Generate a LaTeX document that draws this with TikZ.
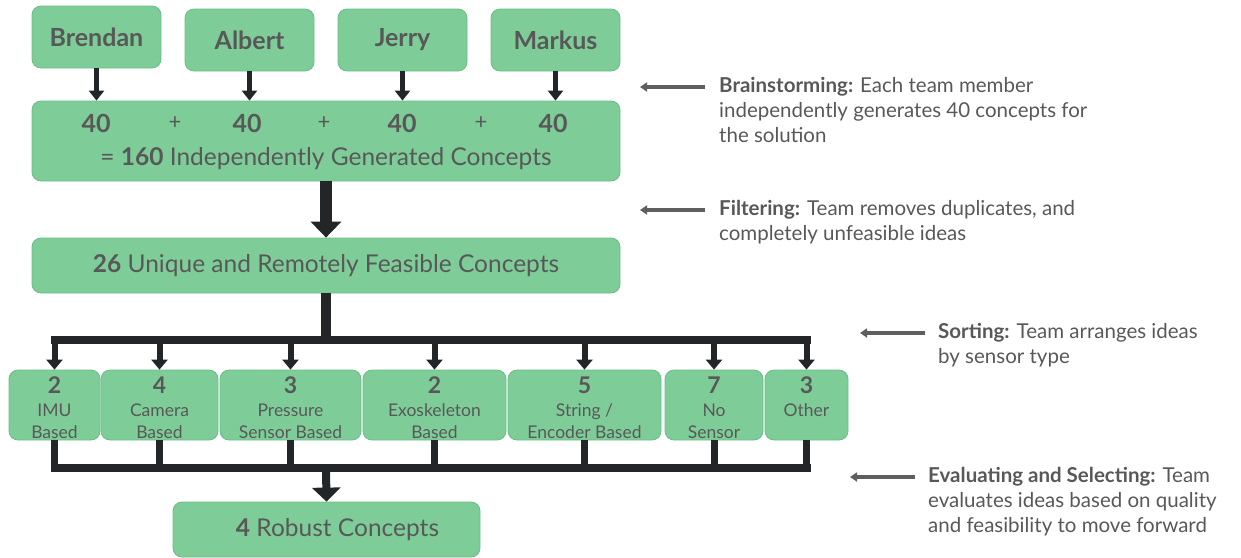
\documentclass[tikz,border=0pt]{standalone}
\usepackage{fontspec}
\setmainfont{Lato}
\usetikzlibrary{arrows.meta,positioning,calc}

\definecolor{boxgreen}{HTML}{7ECD99}
\definecolor{boxedge}{HTML}{6ABD86}
\definecolor{ink}{HTML}{585858}
\definecolor{flow}{HTML}{222628}
\definecolor{pointgray}{HTML}{5F5F5F}

\newcommand{\catnum}[1]{{\fontsize{23}{22.5}\selectfont\bfseries\rule{0pt}{23pt}#1}}

\begin{document}
\begin{tikzpicture}[
    x=1pt, y=-1pt,
    box/.style={rectangle, draw=boxedge, line width=0.8pt, rounded corners=9pt,
                fill=boxgreen, text=ink, inner sep=0pt},
    member/.style={box, minimum width=129pt, minimum height=62pt,
                   font=\fontsize{25}{28}\selectfont\bfseries},
    wide/.style={box, minimum width=588pt, font=\fontsize{24.5}{28}\selectfont},
    cat/.style={box, minimum height=70pt, align=center,
                font=\fontsize{17.5}{22.5}\selectfont},
    count/.style={text=ink, inner sep=0pt, font=\fontsize{25}{28}\selectfont\bfseries},
    plus/.style={text=ink, inner sep=0pt, font=\fontsize{22}{24}\selectfont},
    note/.style={anchor=north west, text=ink, inner sep=0pt, align=left,
                 font=\fontsize{20.5}{25}\selectfont},
    arr/.style={-{Triangle[length=10pt,width=15pt]}, draw=flow, line width=5pt},
    bigarr/.style={-{Triangle[length=16pt,width=30pt]}, draw=flow, line width=12pt},
    bus/.style={draw=flow, line width=8pt, line cap=rect},
    drop/.style={-{Triangle[length=10pt,width=16pt]}, draw=flow, line width=6pt},
    link/.style={draw=flow, line width=7pt},
    pointer/.style={-{Triangle[length=7pt,width=9pt]}, draw=pointgray, line width=4.5pt},
]
\useasboundingbox (0,0) rectangle (1241,557);

% Team members
\node[member] (brendan) at (96.5,37) {Brendan};
\node[member] (albert) at (249.5,40) {Albert};
\node[member] (jerry) at (402.5,40) {Jerry};
\node[member] (markus) at (555.5,40) {Markus};

% Sum of concepts
\node[wide, minimum height=80pt] (sum) at (326,141) {};
\node[count] (c1) at (96,123) {40};
\node[count] (c2) at (247,123) {40};
\node[count] (c3) at (402,123) {40};
\node[count] (c4) at (553,123) {40};
\node[plus] (p1) at (175,123) {+};
\node[plus] (p2) at (324,123) {+};
\node[plus] (p3) at (481,123) {+};
\node[text=ink, inner sep=0pt, font=\fontsize{24.5}{28}\selectfont] (total) at (326,159)
    {= \textbf{160} Independently Generated Concepts};

\draw[arr] (brendan.south) -- (brendan.south |- sum.north);
\draw[arr] (albert.south) -- (albert.south |- sum.north);
\draw[arr] (jerry.south) -- (jerry.south |- sum.north);
\draw[arr] (markus.south) -- (markus.south |- sum.north);

% Filtered concepts
\node[wide, minimum height=55pt] (uniq) at (326,265.5)
    {\textbf{26} Unique and Remotely Feasible Concepts\hspace{22pt}};
\draw[bigarr] (sum.south) -- (uniq.north);

% Sorting by sensor type
\node[cat, minimum width=91pt] (imu) at (54.5,405) {\catnum{2}\\IMU\\Based};
\node[cat, minimum width=117pt] (camera) at (159.5,405) {\catnum{4}\\Camera\\Based};
\node[cat, minimum width=141pt] (pressure) at (290.5,405) {\catnum{3}\\Pressure\\Sensor Based};
\node[cat, minimum width=143pt] (exo) at (434.5,405) {\catnum{2}\\Exoskeleton\\Based};
\node[cat, minimum width=153pt] (string) at (584.5,405) {\catnum{5}\\String /\\Encoder Based};
\node[cat, minimum width=98pt] (nosensor) at (714,405) {\catnum{7}\\No\\Sensor};
\node[cat, minimum width=83pt] (other) at (806.5,405) {\catnum{3}\\Other\\\phantom{O}};

\coordinate (split) at (326,340);
\coordinate (merge) at (326,468);

\draw[link, line width=10pt] (uniq.south) -- (split);
\draw[bus] (imu.north |- split) -- (other.north |- split);
\foreach \c in {imu,camera,pressure,exo,string,nosensor,other}
  \draw[drop] (\c.north |- split) -- (\c.north);

% Selection
\foreach \c in {imu,camera,pressure,exo,string,nosensor,other}
  \draw[link] (\c.south) -- (\c.south |- merge);
\draw[bus] (imu.south |- merge) -- (other.south |- merge);

\node[wide, minimum width=307pt, minimum height=55pt] (robust) at (326.5,529.5)
    {\hspace{22pt}\textbf{4} Robust Concepts};
\draw[arr, line width=8pt, -{Triangle[length=14pt,width=28pt]}] (merge) -- (robust.north);

% Step notes
\node[note] (brain) at (719,77)
    {\textbf{Brainstorming:} Each team member\\independently generates 40 concepts for\\the solution};
\node[note] (filter) at (719,200)
    {\textbf{Filtering:} Team removes duplicates, and\\completely unfeasible ideas};
\node[note] (sort) at (938,323)
    {\textbf{Sorting:} Team arranges ideas\\by sensor type};
\node[note] (eval) at (928,467)
    {\textbf{Evaluating and Selecting:} Team\\evaluates ideas based on quality\\and feasibility to move forward};

\coordinate (brainTip) at (640,87);
\coordinate (filterTip) at (640,210);
\coordinate (sortTip) at (860,333);
\coordinate (evalTip) at (850,477);
\draw[pointer] ([xshift=-14pt]brain.west |- brainTip) -- (brainTip);
\draw[pointer] ([xshift=-14pt]filter.west |- filterTip) -- (filterTip);
\draw[pointer] ([xshift=-13pt]sort.west |- sortTip) -- (sortTip);
\draw[pointer] ([xshift=-13pt]eval.west |- evalTip) -- (evalTip);

\end{tikzpicture}
\end{document}
